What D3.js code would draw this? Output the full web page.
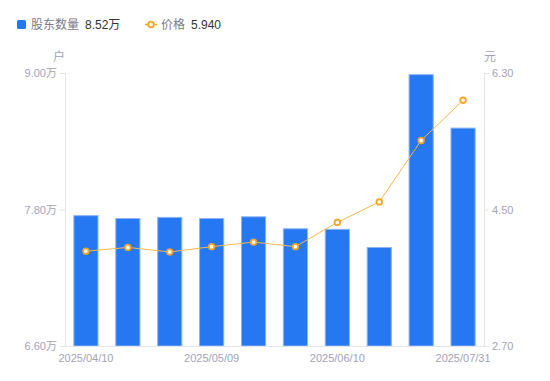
<!DOCTYPE html>
<html>
<head>
<meta charset="utf-8">
<script src="https://cdn.jsdelivr.net/npm/d3@7"></script>
<style>
  body { margin: 0; background: #fff; }
  text { font-family: "Liberation Sans", "Noto Sans CJK SC", sans-serif; }
</style>
</head>
<body>
<svg id="chart" width="550" height="381"></svg>
<script>
// DATA
var dates = ["2025/04/10", "2025/04/18", "2025/04/30", "2025/05/09", "2025/05/20",
             "2025/05/30", "2025/06/10", "2025/06/20", "2025/06/30", "2025/07/31"];
var holders = [7.75, 7.725, 7.735, 7.725, 7.74, 7.635, 7.63, 7.47, 8.99, 8.52];
var prices = [3.95, 4.00, 3.94, 4.01, 4.07, 4.01, 4.33, 4.60, 5.41, 5.94];
var shownDates = ["2025/04/10", "2025/05/09", "2025/06/10", "2025/07/31"];
var leftTicks = [6.60, 7.80, 9.00];
var rightTicks = [2.70, 4.50, 6.30];

// LAYOUT
var svg = d3.select("#chart");
var plotLeft = 65, plotRight = 484, plotTop = 73, plotBottom = 346;
var gray = "#a3a3b3", axisColor = "#e3e3e8";

var x = d3.scaleBand().domain(dates).range([plotLeft, plotRight]).paddingInner(0.4).paddingOuter(0.2);
var yL = d3.scaleLinear().domain([6.6, 9.0]).range([plotBottom, plotTop]);
var yR = d3.scaleLinear().domain([2.7, 6.3]).range([plotBottom, plotTop]);

// bars
svg.append("g").selectAll("rect")
    .data(holders)
    .join("rect")
    .attr("x", function(d, i) { return x(dates[i]) + 0.5; })
    .attr("y", function(d) { return yL(d) + 0.5; })
    .attr("width", x.bandwidth() - 1)
    .attr("height", function(d) { return plotBottom - yL(d) - 0.5; })
    .attr("fill", "#2577f2")
    .attr("stroke", "#8ab4f6")
    .attr("stroke-width", 1);

// axes
var axL = svg.append("g").attr("transform", "translate(" + plotLeft + ",0)")
    .call(d3.axisLeft(yL).tickValues(leftTicks).tickSize(5).tickPadding(3)
        .tickFormat(function(d) { return d3.format(".2f")(d) + "万"; }));
var axR = svg.append("g").attr("transform", "translate(" + plotRight + ",0)")
    .call(d3.axisRight(yR).tickValues(rightTicks).tickSize(5).tickPadding(3)
        .tickFormat(d3.format(".2f")));
var axB = svg.append("g").attr("transform", "translate(0," + plotBottom + ")")
    .call(d3.axisBottom(x).tickValues(shownDates).tickSize(0).tickPadding(8));

[axL, axR, axB].forEach(function(a) {
    a.select(".domain").attr("stroke", axisColor);
    a.selectAll(".tick line").attr("stroke", axisColor);
    a.selectAll("text").attr("fill", gray).style("font-size", "11px")
        .style("font-family", "'Liberation Sans', 'Noto Sans CJK SC', sans-serif");
});
axB.select(".domain").attr("d", "M" + plotLeft + ",0.5H" + plotRight);

// unit labels
svg.append("text").attr("x", 59).attr("y", 61).attr("text-anchor", "middle")
    .attr("fill", gray).style("font-size", "12px").text("户");
svg.append("text").attr("x", 490).attr("y", 61).attr("text-anchor", "middle")
    .attr("fill", gray).style("font-size", "12px").text("元");

// price line
var cx = function(d, i) { return x(dates[i]) + x.bandwidth() / 2; };
svg.append("path")
    .datum(prices)
    .attr("fill", "none")
    .attr("stroke", "#f7b84b")
    .attr("stroke-width", 1)
    .attr("d", d3.line().x(cx).y(function(d) { return yR(d); }));
svg.append("g").selectAll("circle")
    .data(prices)
    .join("circle")
    .attr("cx", cx)
    .attr("cy", function(d) { return yR(d); })
    .attr("r", 2.8)
    .attr("fill", "#fffaf0")
    .attr("stroke", "#f5a524")
    .attr("stroke-width", 1.8);

// LEGEND
var lg = svg.append("g");
lg.append("rect").attr("x", 17).attr("y", 20).attr("width", 9).attr("height", 9)
    .attr("rx", 1.5).attr("fill", "#2577f2");
lg.append("text").attr("x", 31).attr("y", 29).attr("fill", "#7a7a88")
    .style("font-size", "12px").text("股东数量");
lg.append("text").attr("x", 85).attr("y", 29).attr("fill", "#333")
    .style("font-size", "12px").text(d3.format(".2f")(holders[holders.length - 1]) + "万");
lg.append("line").attr("x1", 145).attr("x2", 157).attr("y1", 24.5).attr("y2", 24.5)
    .attr("stroke", "#f5a524").attr("stroke-width", 1.5);
lg.append("circle").attr("cx", 151).attr("cy", 24.5).attr("r", 2.8)
    .attr("fill", "#fffaf0").attr("stroke", "#f5a524").attr("stroke-width", 1.8);
lg.append("text").attr("x", 161).attr("y", 29).attr("fill", "#7a7a88")
    .style("font-size", "12px").text("价格");
lg.append("text").attr("x", 191).attr("y", 29).attr("fill", "#333")
    .style("font-size", "12px").text(d3.format(".3f")(prices[prices.length - 1]));
</script>
</body>
</html>
